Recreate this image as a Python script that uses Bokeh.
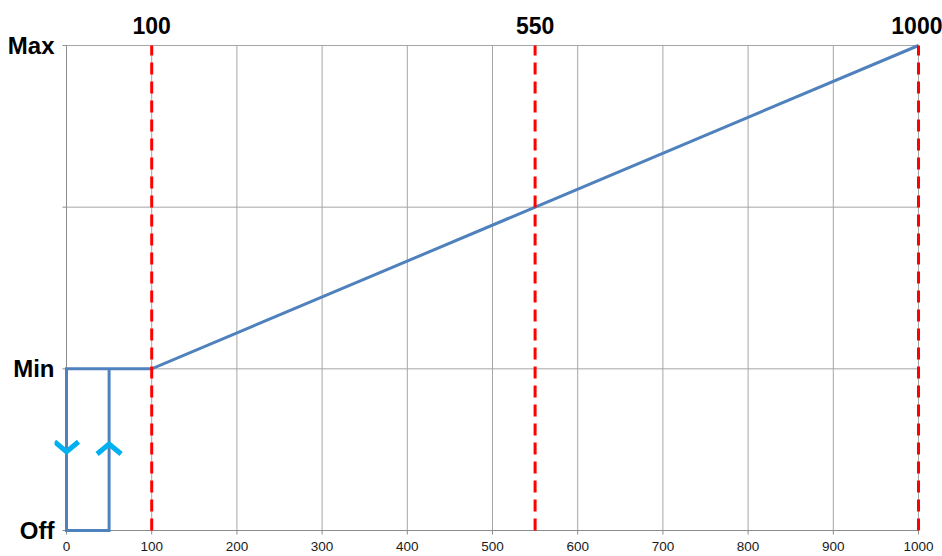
from bokeh.plotting import figure
from bokeh.models import Range1d, FixedTicker, LinearAxis
from bokeh.embed import file_html
from bokeh.resources import INLINE

# ---- data ----
x_ticks = list(range(0, 1001, 100))
x_tick_labels = [str(v) for v in x_ticks]
y_ticks = [0, 1, 2, 3]
y_tick_labels = ["Off", "Min", "", "Max"]
curve_x = [1000, 100, 0, 0, 50, 50]
curve_y = [3, 1, 1, 0, 0, 1]
marker_x = [100, 550, 1000]
marker_labels = ["100", "550", "1000"]
arrow_x = [0, 50]
arrow_y = [0.487, 0.535]
arrow_dir = [-1, 1]   # -1 = pointing down, 1 = pointing up

# ---- layout (pixels) ----
W, H = 942, 556
X_LO, X_HI = 0, 1000
Y_LO, Y_HI = 0, 3
data_w_px, data_h_px = 852, 485          # pixel span of the data area
pad_l, pad_r, pad_t, pad_b = 12, 3, 2, 6  # room around the data area inside the frame
L, T = 54, 43
frame_w = data_w_px + pad_l + pad_r
frame_h = data_h_px + pad_t + pad_b
R = W - L - frame_w
B = H - T - frame_h
kx = data_w_px / (X_HI - X_LO)
ky = data_h_px / (Y_HI - Y_LO)

p = figure(width=W, height=H,
           x_range=Range1d(X_LO - pad_l / kx, X_HI + pad_r / kx),
           y_range=Range1d(Y_LO - pad_b / ky, Y_HI + pad_t / ky),
           output_backend="svg", toolbar_location=None,
           min_border_left=L, min_border_right=R, min_border_top=T, min_border_bottom=B)
p.xgrid.visible = False
p.ygrid.visible = False
p.outline_line_color = None
p.background_fill_color = "white"
p.border_fill_color = "white"

GRID = "#a6a6a6"
AXIS = "#8c8c8c"
FONT = "Liberation Sans"


def label_only(axis):
    axis.axis_line_color = None
    axis.major_tick_line_color = None
    axis.minor_tick_line_color = None
    axis.major_tick_in = 0
    axis.major_tick_out = 0
    axis.minor_tick_in = 0
    axis.minor_tick_out = 0


# bottom axis: labels only (lines drawn below)
xa = p.xaxis[0]
xa.ticker = FixedTicker(ticks=x_ticks)
xa.major_label_overrides = {t: s for t, s in zip(x_ticks, x_tick_labels)}
label_only(xa)
xa.major_label_standoff = 5
xa.major_label_text_font = FONT
xa.major_label_text_font_size = "13.5px"
xa.major_label_text_color = "#1a1a1a"

# left axis
ya = p.yaxis[0]
ya.ticker = FixedTicker(ticks=y_ticks)
ya.major_label_overrides = {t: s for t, s in zip(y_ticks, y_tick_labels)}
label_only(ya)
ya.major_label_standoff = 0
ya.major_label_text_font = FONT
ya.major_label_text_font_style = "bold"
ya.major_label_text_font_size = "24px"
ya.major_label_text_color = "black"

# top axis with marker labels
top = LinearAxis(ticker=FixedTicker(ticks=marker_x),
                 major_label_overrides={t: s for t, s in zip(marker_x, marker_labels)})
label_only(top)
top.major_label_standoff = 10
top.major_label_text_font = FONT
top.major_label_text_font_style = "bold"
top.major_label_text_font_size = "23px"
top.major_label_text_color = "black"
p.add_layout(top, "above")

# grid lines, spanning only the data area
p.segment(x0=x_ticks, y0=[Y_LO] * len(x_ticks), x1=x_ticks, y1=[Y_HI] * len(x_ticks),
          line_color=GRID, line_width=1)
p.segment(x0=[X_LO] * len(y_ticks), y0=y_ticks, x1=[X_HI] * len(y_ticks), y1=y_ticks,
          line_color=GRID, line_width=1)
# axis lines and tick marks
tick = 4
p.segment(x0=[X_LO], y0=[Y_LO], x1=[X_HI], y1=[Y_LO], line_color=AXIS, line_width=1)
p.segment(x0=[X_LO], y0=[Y_LO], x1=[X_LO], y1=[Y_HI], line_color=AXIS, line_width=1)
p.segment(x0=x_ticks, y0=[Y_LO] * len(x_ticks), x1=x_ticks,
          y1=[Y_LO - tick / ky] * len(x_ticks), line_color=AXIS, line_width=1)
p.segment(x0=[X_LO] * len(y_ticks), y0=y_ticks, x1=[X_LO - tick / kx] * len(y_ticks),
          y1=y_ticks, line_color=AXIS, line_width=1)

# blue curve
p.line(curve_x, curve_y, line_color="#4f81bd", line_width=3, line_join="miter")

# red dashed markers
p.segment(x0=marker_x, y0=[Y_LO] * len(marker_x), x1=marker_x, y1=[Y_HI] * len(marker_x),
          line_color="#ff0000", line_width=3, line_dash="12 7")

# chevrons (pixel sizes converted to data units)
chev_half_w_px, chev_h_px = 12, 10
dx = chev_half_w_px / kx
dy = chev_h_px / ky
cxs, cys = [], []
for ax, ay, d in zip(arrow_x, arrow_y, arrow_dir):
    cxs.append([ax - dx, ax, ax + dx])
    cys.append([ay - d * dy, ay, ay - d * dy])
p.multi_line(cxs, cys, line_color="#00b0f0", line_width=5, line_join="miter",
             line_cap="butt")

open("out.html", "w").write(file_html(p, INLINE))
